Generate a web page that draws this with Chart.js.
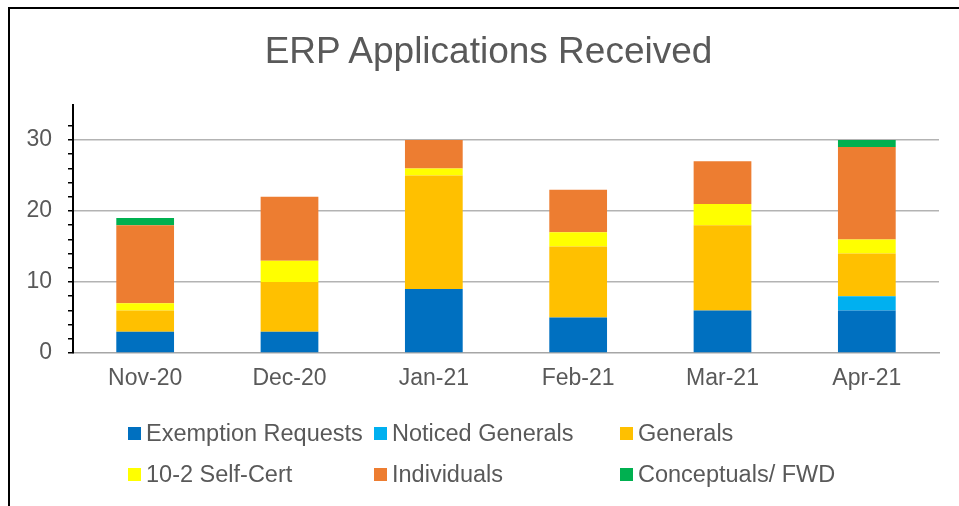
<!DOCTYPE html>
<html>
<head>
<meta charset="utf-8">
<script src="https://cdn.jsdelivr.net/npm/chart.js@4/dist/chart.umd.min.js"></script>
<style>
    html, body { margin: 0; padding: 0; background: #fff; }
    #pagina { position: relative; width: 959px; height: 506px; overflow: hidden; font-family: "Liberation Sans", Arial, sans-serif; }
    #grafico { position: absolute; left: 0; top: 0; }
    #moldura { position: absolute; left: 8px; top: 7px; width: 980px; height: 520px; border-top: 2px solid #000; border-left: 2px solid #000; pointer-events: none; }
    #titulo { position: absolute; left: 0; top: 32px; width: 977px; text-align: center; font-size: 37px; line-height: 37px; color: #595959; white-space: nowrap; }
    #legenda { position: absolute; left: 128px; top: 419px; display: grid; grid-template-columns: 246px 246px 246px; row-gap: 13px; }
    .item { display: flex; align-items: center; height: 28px; font-size: 23.5px; color: #595959; white-space: nowrap; }
    .caixa { width: 13px; height: 13px; margin-right: 5px; flex: none; }
</style>
</head>
<body>
<div id="pagina">
    <canvas id="grafico" width="959" height="506"></canvas>
    <div id="moldura"></div>
    <div id="titulo">ERP Applications Received</div>
    <div id="legenda"></div>
</div>
<script>
const meses = ["Nov-20", "Dec-20", "Jan-21", "Feb-21", "Mar-21", "Apr-21"];

const exemptionRequests = [3, 3, 9, 5, 6, 6];
const noticedGenerals   = [0, 0, 0, 0, 0, 2];
const generals          = [3, 7, 16, 10, 12, 6];
const selfCert          = [1, 3, 1, 2, 3, 2];
const individuals       = [11, 9, 4, 6, 6, 13];
const conceptuals       = [1, 0, 0, 0, 0, 1];

const series = [
    { label: "Exemption Requests", data: exemptionRequests, cor: "#0070C0" },
    { label: "Noticed Generals",   data: noticedGenerals,   cor: "#00B0F0" },
    { label: "Generals",           data: generals,          cor: "#FFC000" },
    { label: "10-2 Self-Cert",     data: selfCert,          cor: "#FFFF00" },
    { label: "Individuals",        data: individuals,       cor: "#ED7D31" },
    { label: "Conceptuals/ FWD",   data: conceptuals,       cor: "#00B050" }
];

const fonte = "'Liberation Sans', Arial, sans-serif";
const cinza = "#595959";

const chart = new Chart(document.getElementById("grafico"), {
    type: "bar",
    data: {
        labels: meses,
        datasets: series.map(s => ({
            label: s.label,
            data: s.data,
            backgroundColor: s.cor,
            borderWidth: 0,
            barPercentage: 0.4,
            categoryPercentage: 1
        }))
    },
    options: {
        responsive: false,
        animation: false,
        devicePixelRatio: 1,
        layout: { padding: { left: 0, right: 20, top: 104.5, bottom: 0 } },
        plugins: {
            legend: { display: false },
            tooltip: { enabled: false },
            title: { display: false }
        },
        scales: {
            x: {
                stacked: true,
                grid: { display: false, drawTicks: false },
                border: { display: true, color: "#A6A6A6", width: 1.5 },
                ticks: { color: cinza, font: { family: fonte, size: 23 }, padding: 12, maxRotation: 0 },
                afterFit: s => { s.height = 153; }
            },
            y: {
                stacked: true,
                min: 0,
                max: 35,
                ticks: {
                    stepSize: 2,
                    autoSkip: false,
                    color: cinza,
                    padding: 16,
                    font: { family: fonte, size: 23 },
                    callback: v => (v % 10 === 0 ? v : "")
                },
                grid: {
                    color: c => (c.tick && c.tick.value % 10 === 0 && c.tick.value > 0 ? "#B3B3B3" : "rgba(0,0,0,0)"),
                    lineWidth: 1.5,
                    tickLength: 5,
                    tickWidth: 1.5,
                    tickColor: c => (c.tick && c.tick.value > 34 ? "rgba(0,0,0,0)" : "#000")
                },
                border: { display: true, color: "#000", width: 2 },
                afterFit: s => { s.width = 73; }
            }
        }
    }
});

// legenda em grade de 3 colunas
const legenda = document.getElementById("legenda");
series.forEach(s => {
    const item = document.createElement("div");
    item.className = "item";
    item.innerHTML = `<span class="caixa" style="background:${s.cor}"></span><span>${s.label}</span>`;
    legenda.appendChild(item);
});
</script>
</body>
</html>
